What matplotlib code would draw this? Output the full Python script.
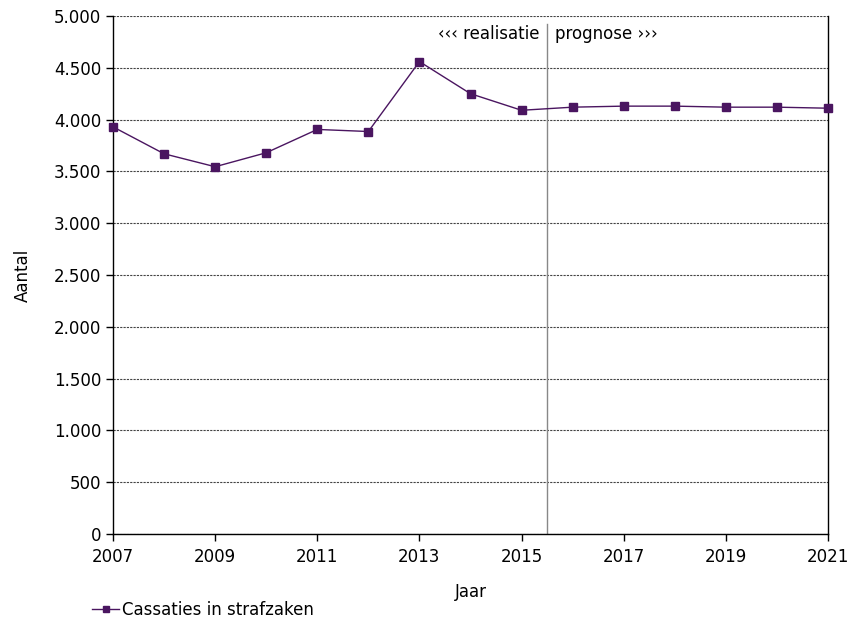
import matplotlib
matplotlib.use("Agg")
import matplotlib.pyplot as plt
from matplotlib.ticker import FuncFormatter, MultipleLocator, FixedLocator

years = [2007, 2008, 2009, 2010, 2011, 2012, 2013, 2014, 2015, 2016, 2017, 2018, 2019, 2020, 2021]
cassaties = [3930, 3670, 3545, 3680, 3905, 3885, 4560, 4250, 4090, 4120, 4130, 4130, 4120, 4120, 4110]
xtick_years = [2007, 2009, 2011, 2013, 2015, 2017, 2019, 2021]
series_label = "Cassaties in strafzaken"
split_year = 2015.5

plt.rcParams['font.family'] = ['DejaVu Sans']
fig = plt.figure(figsize=(8.56, 6.27), dpi=100)
ax = fig.add_axes([113/856, 1-534/627, (828-113)/856, (534-16)/627])

color = '#4a1560'
ax.plot(years, cassaties, color=color, lw=1.0, marker='s', ms=5.5, mfc=color, mec=color,
        label=series_label, clip_on=False, zorder=5)

ax.set_xlim(2007, 2021)
ax.set_ylim(0, 5000)
ax.xaxis.set_major_locator(FixedLocator(xtick_years))
ax.yaxis.set_major_locator(MultipleLocator(500))
ax.yaxis.set_major_formatter(FuncFormatter(lambda v, p: f"{int(v):,}".replace(",", ".")))
ax.grid(axis='y', color='#444444', ls=(0, (2.0, 1.0)), lw=0.8)
ax.set_axisbelow(True)
ax.spines['top'].set_visible(False)
for s in ['left', 'bottom', 'right']:
    ax.spines[s].set_color('black')
    ax.spines[s].set_linewidth(1.0)
ax.tick_params(axis='both', direction='out', length=5, width=1, labelsize=12, colors='black')
ax.tick_params(axis='x', pad=5)

ax.axvline(split_year, ymin=0, ymax=0.985, color='#888888', lw=1.0)
ax.text(split_year - 0.15, 4830, "‹‹‹ realisatie", ha='right', va='center', fontsize=12)
ax.text(split_year + 0.15, 4830, "prognose ›››", ha='left', va='center', fontsize=12)

ax.set_xlabel("Jaar", fontsize=12, labelpad=12)
ax.set_ylabel("Aantal", fontsize=12, labelpad=16)

fig.legend(loc='lower left', bbox_to_anchor=(84/856, 0.0), frameon=False, fontsize=12,
           handlelength=1.6, handletextpad=0.15, borderaxespad=0.1, markerscale=0.8)

fig.savefig("out.png", dpi=100)
